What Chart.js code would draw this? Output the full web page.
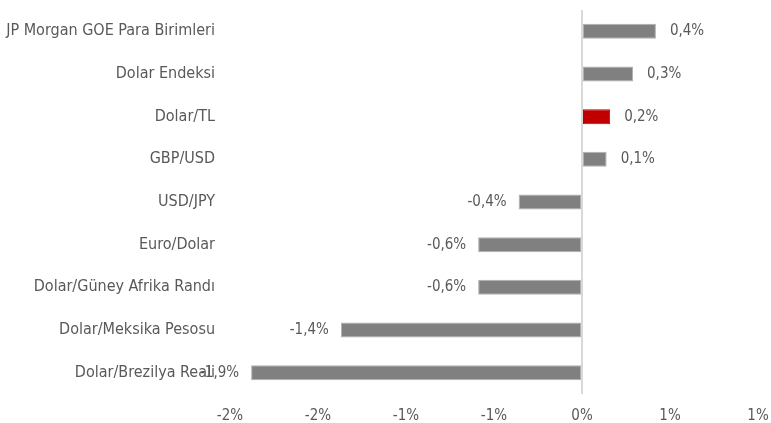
<!DOCTYPE html>
<html lang="tr">
<head>
<meta charset="UTF-8">
<title>Kur değişimleri</title>
<script src="https://cdn.jsdelivr.net/npm/chart.js"></script>
<style>
  html, body { margin: 0; padding: 0; background: #fff; }
  #wrap { width: 771px; height: 423px; position: relative; }
</style>
</head>
<body>
<div id="wrap"><canvas id="chart"></canvas></div>
<script>
// data (haftalık % değişim)
const categories = ['JP Morgan GOE Para Birimleri', 'Dolar Endeksi', 'Dolar/TL', 'GBP/USD', 'USD/JPY',
  'Euro/Dolar', 'Dolar/Güney Afrika Randı', 'Dolar/Meksika Pesosu', 'Dolar/Brezilya Reali'];
const values = [0.42, 0.29, 0.16, 0.14, -0.36, -0.59, -0.59, -1.37, -1.88];
const highlight = 'Dolar/TL';
const xMin = -2, xMax = 1, xStep = 0.5;

const FONT = "'Liberation Sans Narrow', 'DejaVu Sans Condensed', sans-serif";
const TEXT = '#595959';

function pct(v, digits) {
  // Excel style rounding (away from zero) with comma decimal
  const f = Math.pow(10, digits);
  const r = Math.sign(v) * Math.round(Math.abs(v) * f) / f;
  return r.toFixed(digits).replace('.', ',') + '%';
}

// simple value labels outside bar end
const barLabels = {
  id: 'barLabels',
  afterDatasetsDraw(chart) {
    const ctx = chart.ctx;
    const meta = chart.getDatasetMeta(0);
    ctx.save();
    ctx.font = '15px ' + FONT;
    ctx.fillStyle = TEXT;
    ctx.textBaseline = 'middle';
    meta.data.forEach((bar, i) => {
      const v = values[i];
      const txt = pct(v, 1);
      if (v >= 0) {
        ctx.textAlign = 'left';
        ctx.fillText(txt, bar.x + 14, bar.y);
      } else {
        ctx.textAlign = 'right';
        ctx.fillText(txt, bar.x - 12, bar.y);
      }
    });
    ctx.restore();
  }
};

new Chart(document.getElementById('chart').getContext('2d'), {
  type: 'bar',
  data: {
    labels: categories,
    datasets: [{
      data: values,
      backgroundColor: categories.map(c => c === highlight ? '#C00000' : '#808080'),
      borderColor: categories.map(c => c === highlight ? '#C00000' : '#b0b0b0'),
      borderWidth: 1,
      borderSkipped: false,
      barPercentage: 0.35,
      categoryPercentage: 1
    }]
  },
  options: {
    indexAxis: 'y',
    responsive: true,
    maintainAspectRatio: false,
    animation: false,
    layout: { padding: { top: 10, right: 13, left: 0, bottom: 0 } },
    plugins: { legend: { display: false }, tooltip: { enabled: false } },
    scales: {
      x: {
        min: xMin,
        max: xMax,
        border: { display: false },
        grid: {
          drawTicks: false,
          color: c => c.tick && c.tick.value === 0 ? '#d9d9d9' : 'rgba(0,0,0,0)',
          lineWidth: 2
        },
        ticks: {
          stepSize: xStep,
          padding: 13,
          color: TEXT,
          font: { family: FONT, size: 15 },
          maxRotation: 0,
          callback: v => pct(v, 0)
        },
        afterFit: s => { s.height = 29; s.paddingLeft = 0; s.paddingRight = 0; }
      },
      y: {
        border: { display: false },
        grid: { display: false, drawTicks: false },
        ticks: {
          padding: 15,
          color: TEXT,
          font: { family: FONT, size: 16 }
        },
        afterFit: s => { s.width = 230; s.paddingTop = 0; s.paddingBottom = 0; }
      }
    }
  },
  plugins: [barLabels]
});
</script>
</body>
</html>
